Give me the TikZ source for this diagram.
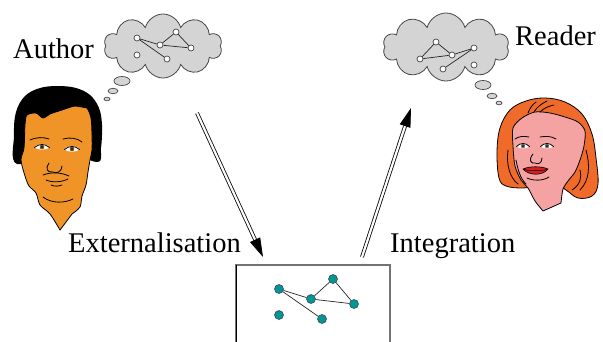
\documentclass[tikz,border=0pt]{standalone}
\usepackage{fontspec}
\setmainfont{Liberation Serif}
\usetikzlibrary{shapes.symbols,arrows.meta}
\definecolor{cloudgray}{RGB}{212,212,212}
\definecolor{cloudline}{RGB}{70,70,70}
\definecolor{tealnode}{RGB}{0,150,150}
\definecolor{skinorange}{RGB}{240,148,40}
\definecolor{hairred}{RGB}{240,106,42}
\definecolor{skinpink}{RGB}{244,162,162}
\definecolor{lipred}{RGB}{210,30,30}
\definecolor{irisbrown}{RGB}{120,80,40}
\definecolor{irisgray}{RGB}{110,110,100}
\tikzset{
  thought/.style={cloud, cloud puffs=10, aspect=1.8, draw=cloudline, fill=cloudgray, line width=0.8pt, inner sep=0pt},
  bubble/.style={draw=cloudline, fill=cloudgray, line width=0.7pt},
  idea/.style={circle, draw=cloudline, fill=white, line width=0.7pt, minimum size=6pt, inner sep=0pt},
  ideaedge/.style={draw=black!85, line width=0.7pt},
  docnode/.style={circle, draw=black!70, fill=tealnode, line width=0.6pt, minimum size=9pt, inner sep=0pt},
  docedge/.style={draw=black!85, line width=0.7pt},
  transfer/.style={double, double distance=2.2pt, line width=0.8pt, -{Triangle[length=19pt,width=11pt]}},
  label/.style={font=\fontsize{28.5}{30}\selectfont, inner sep=0pt, anchor=base west},
  outline/.style={draw=black, line width=0.8pt},
  feature/.style={draw=black, line width=0.8pt, line cap=round},
}
\begin{document}
\begin{tikzpicture}[x=1pt,y=-1pt]
\useasboundingbox (0,0) rectangle (603,342);

% ---------- thought clouds ----------
\node[thought, minimum width=118pt, minimum height=64pt] (acloud) at (163,46) {};
\node[thought, minimum width=126pt, minimum height=68pt] (rcloud) at (446,47) {};

\draw[bubble] (122,81) ellipse [x radius=8, y radius=4.5];
\draw[bubble] (113,91) ellipse [x radius=5, y radius=2.7];
\draw[bubble] (107,99) ellipse [x radius=3, y radius=1.8];
\draw[bubble] (483,85) ellipse [x radius=8, y radius=4.5];
\draw[bubble] (492,96) ellipse [x radius=5, y radius=2.7];
\draw[bubble] (499,103) ellipse [x radius=3, y radius=1.8];

% author's idea graph
\node[idea] (a1) at (137,38) {};
\node[idea] (a2) at (176,32) {};
\node[idea] (a3) at (160,45) {};
\node[idea] (a4) at (191,48) {};
\node[idea] (a5) at (137,55) {};
\node[idea] (a6) at (167,59) {};
\draw[ideaedge] (a1) -- (a3) (a1) -- (a6) (a3) -- (a2) (a2) -- (a4) (a3) -- (a4);

% reader's idea graph
\node[idea] (r1) at (436,42) {};
\node[idea] (r2) at (420,59) {};
\node[idea] (r3) at (452,55) {};
\node[idea] (r4) at (474,48) {};
\node[idea] (r5) at (443,69) {};
\node[idea] (r6) at (474,65) {};
\draw[ideaedge] (r1) -- (r2) (r2) -- (r3) (r3) -- (r1) (r3) -- (r4) (r4) -- (r5);

% ---------- document ----------
\draw[draw=black!55, line width=1.2pt] (236,350) -- (236,265) -- (390,265) -- (390,350);
\draw[black, line width=1pt] (236,265) -- (236,350);
\node[docnode] (d1) at (279,289) {};
\node[docnode] (d2) at (333,279) {};
\node[docnode] (d3) at (311,299) {};
\node[docnode] (d4) at (354,304) {};
\node[docnode] (d5) at (279,315) {};
\node[docnode] (d6) at (322,319) {};
\draw[docedge] (d1) -- (d3) (d3) -- (d2) (d2) -- (d4) (d3) -- (d4) (d1) -- (d6);

% ---------- author ----------
\fill[black] plot[smooth cycle, tension=0.6] coordinates {(17,164) (14,135) (16,112) (25,96) (40,88) (58,86) (76,88) (90,95) (99,108) (102,125) (101,148) (97,162) (60,150)};
\filldraw[outline, fill=skinorange] plot[smooth, tension=0.5] coordinates {(60,230) (50,214) (40,205) (36,193) (29,186) (25,176) (21,160) (24,148) (25,125) (27,115) (36,113) (43,118) (50,114) (62,110) (75,106) (86,107) (91,118) (92,135) (92,150) (90,160) (88,172) (86,185) (82,196) (80,207) (72,214)} -- cycle;
\fill[black] plot[smooth, tension=0.6] coordinates {(27,115) (36,113) (43,118) (50,114) (62,110) (75,106) (86,107) (91,118) (92,135)} -- (96,110) -- (40,100) -- cycle;
% eyes
\foreach \ex/\ey in {42/147, 72/149}{
  \fill[white] (\ex,\ey) ellipse [x radius=7, y radius=2.6];
  \fill[irisbrown] (\ex,\ey) circle [radius=2.3];
  \fill[black] (\ex,\ey) circle [radius=0.9];
  \draw[feature] (\ex-7.5,\ey+0.5) .. controls (\ex-3,\ey-3.5) and (\ex+3,\ey-3.5) .. (\ex+7.5,\ey+0.5);
}
% brows
\draw[feature] (30,140) .. controls (37,137) and (43,137) .. (49,139);
\draw[feature] (63,139) .. controls (70,137) and (77,138) .. (82,142);
% nose
\draw[feature] (49,163) .. controls (45,168) and (47,173) .. (53,172) .. controls (56,174) and (62,172) .. (62,166);
% mouth
\draw[feature] (43,175) .. controls (51,172) and (60,172) .. (69,176);
\draw[feature] (46,180) .. controls (53,183) and (62,182) .. (68,179);
\draw[feature] (51,185) .. controls (55,187) and (59,186) .. (62,185);
% chin
\draw[feature] (43,197) .. controls (52,204) and (65,203) .. (73,199);

% ---------- reader ----------
\filldraw[outline, fill=hairred] plot[smooth cycle, tension=0.6] coordinates {(499,178) (497,152) (500,128) (510,110) (526,101) (545,98) (565,102) (582,114) (592,134) (596,158) (598,184) (592,196) (578,198) (566,190) (552,182) (536,186) (522,188) (506,186)};
\filldraw[outline, fill=skinpink] plot[smooth, tension=0.5] coordinates {(543,211) (535,201) (528,188) (521,180) (515,166) (513,146) (513,128) (522,118) (535,112) (550,113) (565,117) (578,122) (585,131) (584,146) (580,160) (575,172) (568,181) (563,189) (561,203)} -- cycle;
% hair strands
\draw[feature] (528,113) .. controls (530,108) and (532,105) .. (536,102);
\draw[feature] (534,112) .. controls (537,107) and (541,104) .. (547,101);
\draw[feature] (540,112) .. controls (544,108) and (549,106) .. (554,105);
\draw[feature] (516,160) .. controls (518,170) and (520,178) .. (526,184);
\draw[feature] (508,150) .. controls (506,165) and (510,178) .. (518,184);
\draw[feature] (586,150) .. controls (590,165) and (590,180) .. (580,190);
\draw[feature] (580,170) .. controls (582,178) and (580,185) .. (572,190);
% eyes
\foreach \ex/\ey in {523/146, 547/146}{
  \fill[white] (\ex,\ey) ellipse [x radius=6, y radius=2.4];
  \fill[irisgray] (\ex,\ey) circle [radius=2.2];
  \fill[black] (\ex,\ey) circle [radius=0.8];
  \draw[feature] (\ex-6.5,\ey+0.5) .. controls (\ex-3,\ey-3.5) and (\ex+3,\ey-3.5) .. (\ex+6.5,\ey+0.5);
}
\draw[feature] (515,139) .. controls (519,136) and (524,136) .. (529,137);
\draw[feature] (540,137) .. controls (546,136) and (551,136) .. (556,139);
% nose
\draw[feature] (533,154) .. controls (528,160) and (531,164) .. (535,163) .. controls (538,165) and (542,163) .. (542,158);
% lips
\filldraw[draw=black, line width=0.6pt, fill=lipred] (523,169) .. controls (530,166) and (541,166) .. (548,169) .. controls (543,176) and (529,176) .. (523,169) -- cycle;
\draw[black, line width=0.5pt] (524,169.5) .. controls (531,171) and (541,171) .. (547,169.5);
% chin
\draw[feature] (527,178) .. controls (533,181) and (543,181) .. (549,177);

% ---------- transfer arrows ----------
\coordinate (extstart) at (197,113);
\coordinate (extend) at (263,257);
\coordinate (intstart) at (362,257);
\coordinate (intend) at (411,108);
\draw[transfer] (extstart) -- (extend);
\draw[transfer] (intstart) -- (intend);

% ---------- labels ----------
\node[label] (author) at (13,59) {Author};
\node[label] (reader) at (515,46) {Reader};
\node[label] (ext) at (68,252) {Externalisation};
\node[label] (integ) at (390,252) {Integration};
\end{tikzpicture}
\end{document}
